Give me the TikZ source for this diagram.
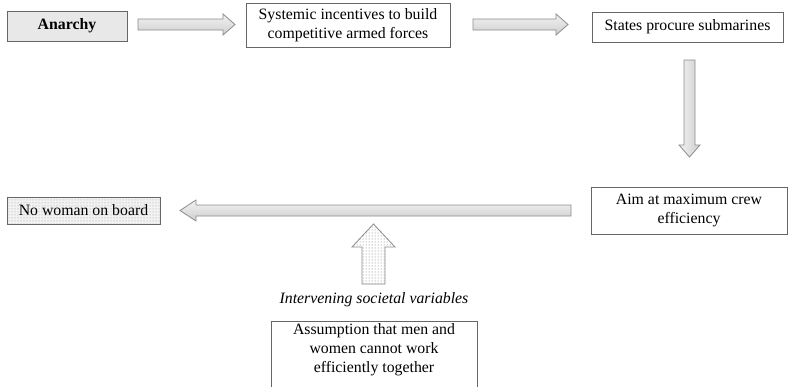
\documentclass[tikz,border=0pt]{standalone}
\usepackage{fontspec}
\setmainfont{Liberation Serif}
\usetikzlibrary{patterns,calc}
\begin{document}
\begin{tikzpicture}[x=1pt,y=-1pt,
  box/.style={draw=black!60, line width=0.8pt, rectangle, inner sep=0pt, align=center,
    font=\fontsize{15.8}{19}\selectfont},
  txt/.style={inner sep=0pt, align=center, font=\fontsize{15.8}{19}\selectfont},
  barrow/.style={draw=black!45, line width=0.8pt, top color=gray!10, bottom color=gray!38},
  varrow/.style={draw=black!45, line width=0.8pt, left color=gray!10, right color=gray!38},
  dotarrow/.style={draw=black!45, line width=0.8pt, fill=gray!12, pattern=dots, pattern color=black!55}]
\useasboundingbox (0,0) rectangle (788,386);
\clip (0,0) rectangle (788,386);
\fill[white] (0,0) rectangle (788,386);
% boxes
\node[box, fill=gray!18, minimum width=120pt, minimum height=30pt, font=\fontsize{15.8}{19}\selectfont\bfseries] (anarchy) at (67,26) {Anarchy};
\node[box, minimum width=204pt, minimum height=44pt] (sys) at (348,25) {Systemic incentives to build\\competitive armed forces};
\node[box, minimum width=191pt, minimum height=30pt] (states) at (687.5,27) {States procure submarines};
\node[box, minimum width=196pt, minimum height=47pt] (aim) at (689,210.5) {Aim at maximum crew\\efficiency};
\fill[gray!10] (7,197) rectangle (160,224);
\fill[pattern=dots, pattern color=black!40] (7,197) rectangle (160,224);
\node[box, minimum width=153pt, minimum height=27pt] (nowoman) at (83.5,210.5) {No woman on board};
\node[txt, font=\fontsize{15.8}{19}\selectfont\itshape] (interv) at (374,300) {Intervening societal variables};
\draw[draw=black!60, line width=0.8pt] (271,321) rectangle (477,395);
\node[txt, anchor=north] (assump) at (374,323) {Assumption that men and\\women cannot work\\efficiently together};
% block arrows
\coordinate (a1) at (138,24.5);
\coordinate (a2) at (473,24.5);
\draw[barrow] (138,19) -- (223,19) -- (223,14) -- (235,24.5) -- (223,35) -- (223,30) -- (138,30) -- cycle;
\draw[barrow] (473,19) -- (556,19) -- (556,14) -- (568,24.5) -- (556,35) -- (556,30) -- (473,30) -- cycle;
\draw[varrow] (684,60) -- (695,60) -- (695,145) -- (700,145) -- (689.5,157) -- (679,145) -- (684,145) -- cycle;
\draw[barrow] (571,205) -- (196,205) -- (196,200) -- (180,210.5) -- (196,221) -- (196,216) -- (571,216) -- cycle;
\draw[dotarrow] (362,284) -- (362,247) -- (352,247) -- (373.5,224) -- (395,247) -- (385,247) -- (385,284) -- cycle;
\end{tikzpicture}
\end{document}
